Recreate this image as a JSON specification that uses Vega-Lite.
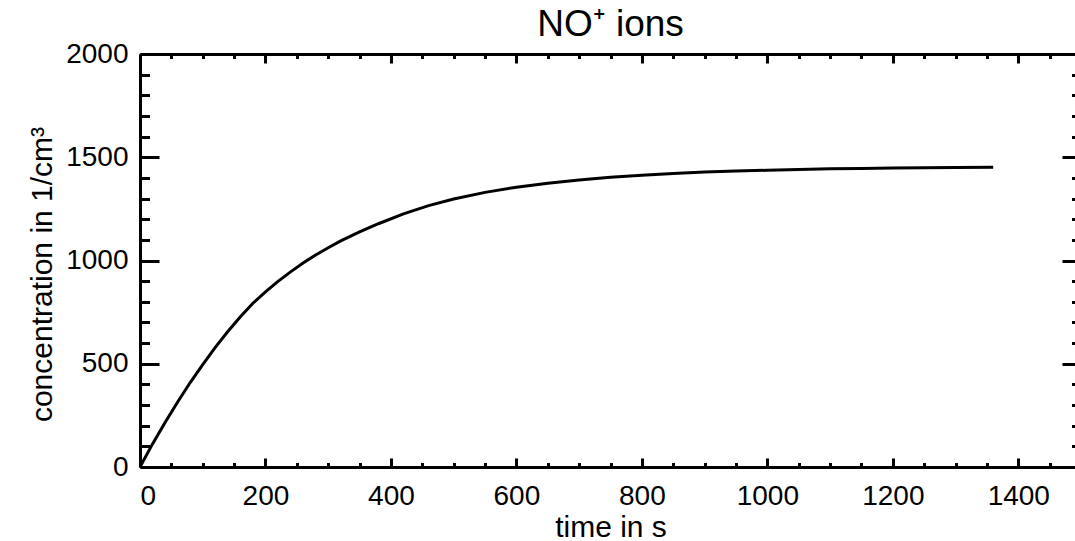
{
  "$schema": "https://vega.github.io/schema/vega-lite/v6.json",
  "width": 941,
  "height": 413,
  "autosize": {"type": "none"},
  "padding": {"left": 140, "top": 54, "right": -6, "bottom": 74},
  "background": "white",
  "title": {"text": "NO⁺ ions", "font": "Liberation Sans", "fontSize": 37, "fontWeight": "normal", "color": "black", "anchor": "middle", "offset": -4},
  "data": {"values": [
    {"t": 0, "c": 0}, {"t": 20, "c": 112}, {"t": 40, "c": 215}, {"t": 60, "c": 315}, {"t": 80, "c": 409},
    {"t": 100, "c": 496}, {"t": 120, "c": 579}, {"t": 140, "c": 656}, {"t": 160, "c": 728}, {"t": 180, "c": 793},
    {"t": 200, "c": 848}, {"t": 220, "c": 899}, {"t": 240, "c": 945}, {"t": 260, "c": 988}, {"t": 280, "c": 1027},
    {"t": 300, "c": 1062}, {"t": 320, "c": 1095}, {"t": 350, "c": 1139}, {"t": 380, "c": 1178}, {"t": 420, "c": 1226},
    {"t": 460, "c": 1266}, {"t": 500, "c": 1298}, {"t": 550, "c": 1330}, {"t": 600, "c": 1355}, {"t": 650, "c": 1374},
    {"t": 700, "c": 1390}, {"t": 750, "c": 1403}, {"t": 800, "c": 1413}, {"t": 850, "c": 1421}, {"t": 900, "c": 1428},
    {"t": 950, "c": 1433}, {"t": 1000, "c": 1437}, {"t": 1050, "c": 1441}, {"t": 1100, "c": 1444}, {"t": 1150, "c": 1446},
    {"t": 1200, "c": 1448}, {"t": 1250, "c": 1449}, {"t": 1300, "c": 1450}, {"t": 1360, "c": 1451}
  ]},
  "layer": [
    {
      "mark": {"type": "line", "color": "black", "strokeWidth": 3},
      "encoding": {
        "x": {"field": "t", "type": "quantitative", "scale": {"domain": [0, 1500], "nice": false, "zero": false},
          "axis": {"orient": "bottom", "values": [0, 200, 400, 600, 800, 1000, 1200, 1400], "format": "d", "ticks": false, "labelPadding": 15, "title": "time in s", "titlePadding": 2}},
        "y": {"field": "c", "type": "quantitative", "scale": {"domain": [0, 2000], "nice": false, "zero": false},
          "axis": {"orient": "left", "values": [0, 500, 1000, 1500, 2000], "format": "d", "ticks": false, "labelPadding": 12, "title": "concentration in 1/cm³", "titlePadding": 8, "titleY": 220}}
      }
    },
    {
      "mark": {"type": "line", "strokeOpacity": 0},
      "encoding": {
        "x": {"field": "t", "type": "quantitative",
          "axis": {"orient": "bottom", "values": [0, 200, 400, 600, 800, 1000, 1200, 1400], "tickSize": -9, "labels": false, "domain": false, "title": null}},
        "y": {"field": "c", "type": "quantitative",
          "axis": {"orient": "left", "values": [0, 500, 1000, 1500, 2000], "tickSize": -19, "labels": false, "domain": false, "title": null}}
      }
    },
    {
      "mark": {"type": "line", "strokeOpacity": 0},
      "encoding": {
        "x": {"field": "t", "type": "quantitative",
          "axis": {"orient": "bottom", "values": [50, 100, 150, 250, 300, 350, 450, 500, 550, 650, 700, 750, 850, 900, 950, 1050, 1100, 1150, 1250, 1300, 1350, 1450], "tickSize": -4.5, "labels": false, "domain": false, "title": null}},
        "y": {"field": "c", "type": "quantitative",
          "axis": {"orient": "left", "values": [100, 200, 300, 400, 600, 700, 800, 900, 1100, 1200, 1300, 1400, 1600, 1700, 1800, 1900], "tickSize": -9.5, "labels": false, "domain": false, "title": null}}
      }
    },
    {
      "mark": {"type": "line", "strokeOpacity": 0},
      "encoding": {
        "x": {"field": "t", "type": "quantitative",
          "axis": {"orient": "top", "values": [0, 200, 400, 600, 800, 1000, 1200, 1400], "tickSize": -9, "labels": false, "title": null}},
        "y": {"field": "c", "type": "quantitative",
          "axis": {"orient": "right", "values": [0, 500, 1000, 1500, 2000], "tickSize": -19, "labels": false, "title": null}}
      }
    },
    {
      "mark": {"type": "line", "strokeOpacity": 0},
      "encoding": {
        "x": {"field": "t", "type": "quantitative",
          "axis": {"orient": "top", "values": [50, 100, 150, 250, 300, 350, 450, 500, 550, 650, 700, 750, 850, 900, 950, 1050, 1100, 1150, 1250, 1300, 1350, 1450], "tickSize": -4.5, "labels": false, "domain": false, "title": null}},
        "y": {"field": "c", "type": "quantitative",
          "axis": {"orient": "right", "values": [100, 200, 300, 400, 600, 700, 800, 900, 1100, 1200, 1300, 1400, 1600, 1700, 1800, 1900], "tickSize": -9.5, "labels": false, "domain": false, "title": null}}
      }
    }
  ],
  "resolve": {"axis": {"x": "independent", "y": "independent"}},
  "config": {
    "view": {"stroke": null},
    "axis": {
      "grid": false,
      "domainColor": "black", "domainWidth": 3,
      "tickColor": "black", "tickWidth": 3,
      "labelFont": "Liberation Sans", "labelFontSize": 28, "labelColor": "black",
      "titleFont": "Liberation Sans", "titleFontSize": 30, "titleFontWeight": "normal", "titleColor": "black"
    }
  }
}
